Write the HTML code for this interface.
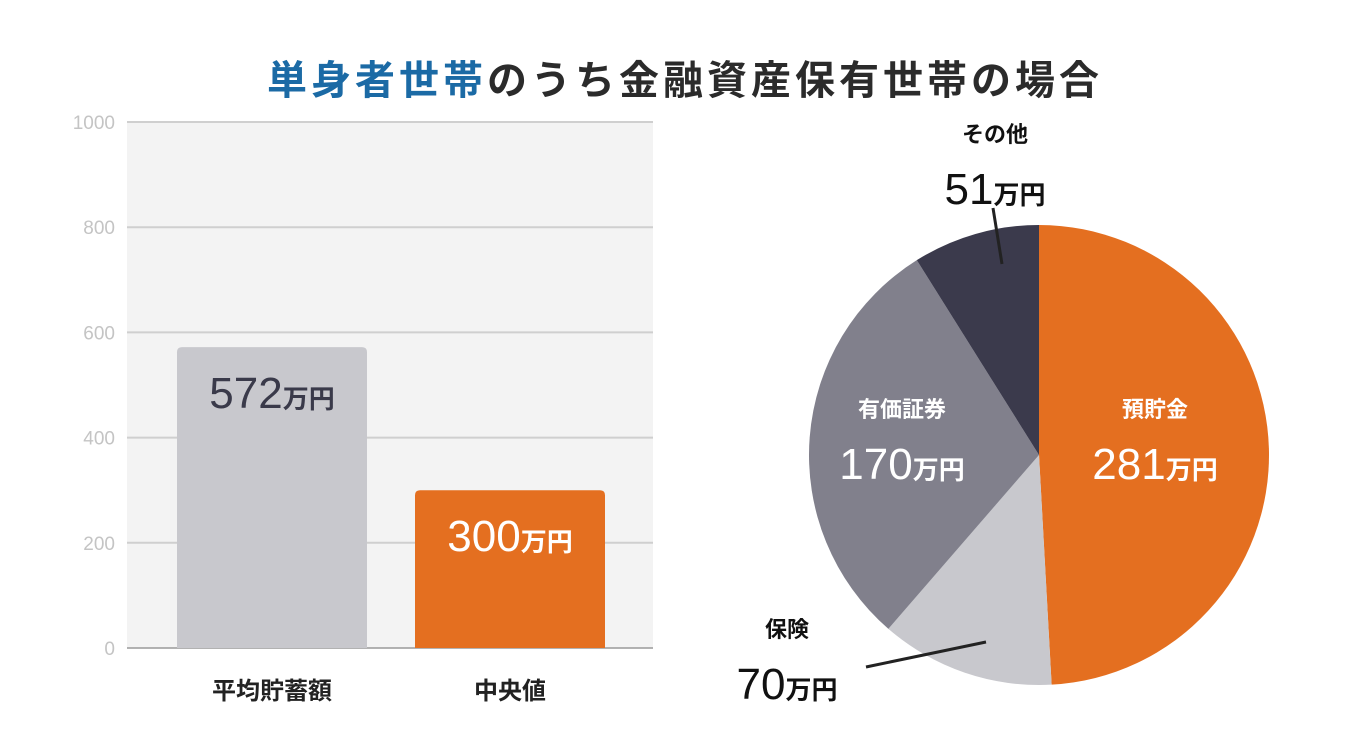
<!DOCTYPE html>
<html><head><meta charset="utf-8">
<style>
body{margin:0;width:1370px;height:750px;background:#fff;overflow:hidden;font-family:"Liberation Sans","Noto Sans CJK JP",sans-serif;}
#title{position:absolute;left:0;width:1370px;top:48px;text-align:center;font-size:40px;font-weight:bold;letter-spacing:4px;color:#2b2b2b;}
#title span{color:#1b6aa5;}
</style></head><body>
<div id="title"><span>単身者世帯</span>のうち金融資産保有世帯の場合</div>
<svg id="svg" width="1370" height="750" style="position:absolute;left:0;top:0"></svg>
<script>
const barCats=["平均貯蓄額","中央値"];
const barVals=[572,300];
const barColors=["#c8c8cd","#e46f20"];
const yTicks=[0,200,400,600,800,1000];
const pieCats=["預貯金","保険","有価証券","その他"];
const pieVals=[281,70,170,51];
const pieColors=["#e46f20","#c8c8cd","#81808c","#3b3a4c"];
const NS="http://www.w3.org/2000/svg";
const svg=document.getElementById('svg');
function mk(t,a,p){const e=document.createElementNS(NS,t);for(const k in a)e.setAttribute(k,a[k]);(p||svg).appendChild(e);return e;}
const x0=127,x1=653,yTop=122,yBot=648,yMax=1000;
const y=v=>yBot-(yBot-yTop)*v/yMax;
const bg=mk('rect',{x:x0,y:yTop,width:x1-x0,height:yBot-yTop,fill:'#f3f3f3'});


yTicks.forEach(t=>{
 const l=mk('line',{x1:x0,x2:x1,y1:y(t),y2:y(t),stroke:t===0?'#999':'#cfcfcf','stroke-width':t===0?1.5:2});
 
 
 const tx=mk('text',{x:x0-12,y:y(t)+7,'text-anchor':'end','font-size':19,fill:'#c4c4c4'});
 tx.textContent=t;
 
 
});
const bw=190,step=238,bstart=177;
barVals.forEach((v,i)=>{
 const bx=bstart+i*step;
 const r=mk('path',{d:`M${bx},${yBot}V${y(v)+5}q0,-5 5,-5H${bx+bw-5}q5,0 5,5V${yBot}Z`,fill:barColors[i]});
 
 
 const t=mk('text',{x:bx+bw/2,y:y(v)+61,'text-anchor':'middle',fill:i===0?'#3a3a4a':'#fff','font-size':44});
 t.innerHTML=v+'<tspan font-size="26" font-weight="bold">万円</tspan>';
 
 
 const c=mk('text',{x:bx+bw/2,y:699,'text-anchor':'middle','font-size':24,'font-weight':'bold',fill:'#222'});
 c.textContent=barCats[i];
 
 
});
const cx=1039,cy=455,R=230;
const tot=pieVals.reduce((a,b)=>a+b,0);
let a=0;const mids=[];
pieVals.forEach((v,i)=>{
 const a2=a+v/tot*2*Math.PI;
 const p=(t)=>[cx+R*Math.sin(t),cy-R*Math.cos(t)];
 const [sx,sy]=p(a),[ex,ey]=p(a2);
 const s=mk('path',{d:`M${cx},${cy}L${sx},${sy}A${R},${R} 0 ${a2-a>Math.PI?1:0} 1 ${ex},${ey}Z`,fill:pieColors[i]});
 
 
 mids.push((a+a2)/2);a=a2;
});
function lbl(x,yy,name,val,col,nm){
 const t1=mk('text',{x:x,y:yy,'text-anchor':'middle','font-size':22,'font-weight':'bold',fill:col});
 t1.textContent=name;
 
 
 const t2=mk('text',{x:x,y:yy+62,'text-anchor':'middle','font-size':44,fill:col});
 t2.innerHTML=val+'<tspan font-size="26" font-weight="bold">万円</tspan>';
 
 
}
lbl(1155,417,pieCats[0],pieVals[0],'#fff','label-deposits');
lbl(902,417,pieCats[2],pieVals[2],'#fff','label-securities');
lbl(995,142,pieCats[3],pieVals[3],'#111','label-other');
lbl(787,637,pieCats[1],pieVals[1],'#111','label-insurance');
const l1=mk('line',{x1:993,y1:208,x2:1002,y2:264,stroke:'#222','stroke-width':3});


const l2=mk('line',{x1:866,y1:667,x2:986,y2:642,stroke:'#222','stroke-width':3});


</script>
</body></html>
